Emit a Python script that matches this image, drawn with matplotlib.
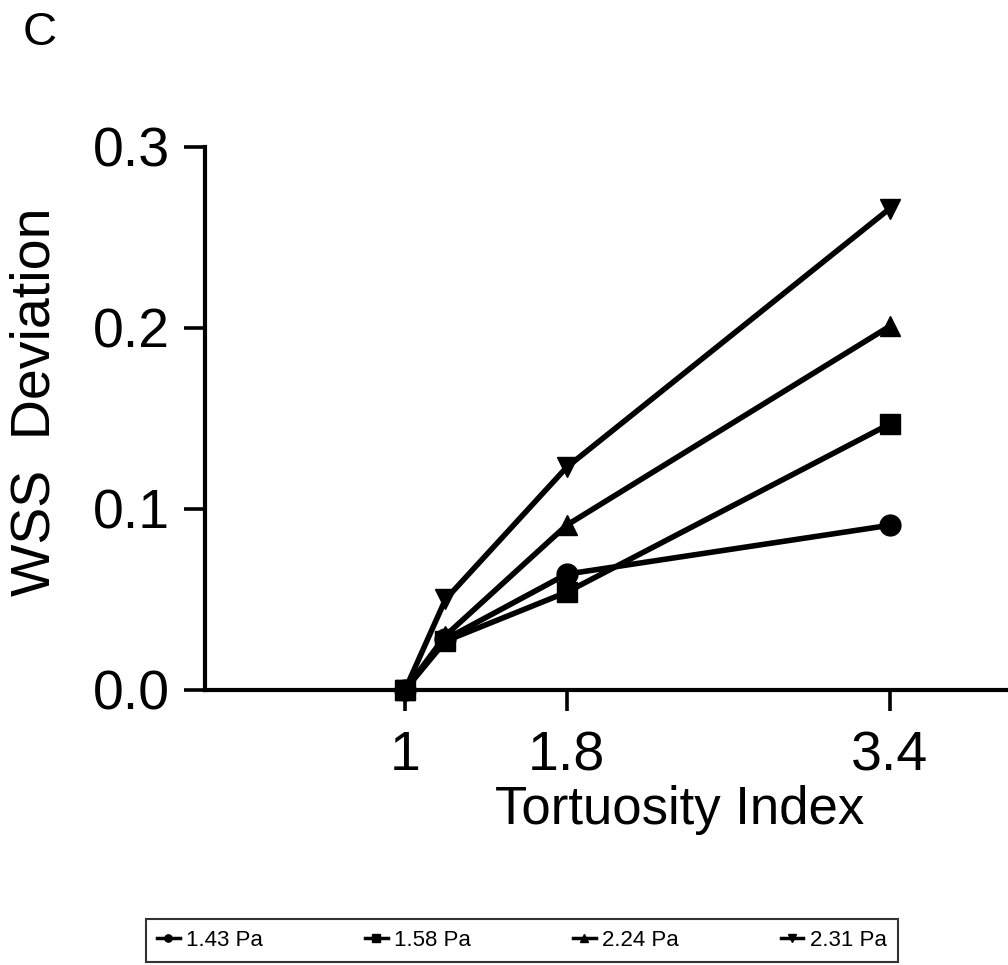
import matplotlib
matplotlib.use('Agg')
import matplotlib.pyplot as plt

plt.rcParams['font.family'] = ['Liberation Sans', 'DejaVu Sans']

# tortuosity index and WSS deviation for each inlet shear stress
ti = [1.0, 1.2, 1.8, 3.4]
p143 = [0.0, 0.028, 0.064, 0.091]
p158 = [0.0, 0.027, 0.054, 0.147]
p224 = [0.0, 0.030, 0.091, 0.201]
p231 = [0.0, 0.050, 0.123, 0.266]
series_labels = ['1.43 Pa', '1.58 Pa', '2.24 Pa', '2.31 Pa']
markers = ['o', 's', '^', 'v']

xticks = [1, 1.8, 3.4]
xticklabels = ['1', '1.8', '3.4']
yticks = [0.0, 0.1, 0.2, 0.3]

fig = plt.figure(figsize=(10.08, 9.65), dpi=100)
ax = fig.add_axes([0.2034, 0.285, 0.7966, 0.5627])

lines = []
for vals, lab, m in zip([p143, p158, p224, p231], series_labels, markers):
    ln, = ax.plot(ti, vals, color='black', lw=4, marker=m, markersize=15,
                  label=lab, clip_on=False)
    lines.append(ln)

ax.set_xlim(0.01, 3.985)
ax.set_ylim(0, 0.3)
ax.set_xticks(xticks)
ax.set_xticklabels(xticklabels)
ax.set_yticks(yticks)
ax.set_yticklabels(['%.1f' % v for v in yticks])

for s in ['top', 'right']:
    ax.spines[s].set_visible(False)
for s in ['left', 'bottom']:
    ax.spines[s].set_linewidth(3)
ax.tick_params(axis='both', length=15, width=2.6, labelsize=40, direction='out')
ax.tick_params(axis='y', pad=10)
ax.tick_params(axis='x', pad=14)

# axis titles placed as figure text
fig.text(680 / 1008, 1 - 810 / 965, 'Tortuosity Index', fontsize=38,
         ha='center', va='center')
fig.text(36 / 1008, 1 - 402 / 965, 'WSS  Deviation', fontsize=40,
         ha='center', va='center', rotation=90)

fig.text(0.022, 0.966, 'C', fontsize=34, va='center', ha='left')

leg = fig.legend(handles=lines, loc='center', bbox_to_anchor=(0.518, 0.0255),
                 ncol=4, fontsize=16, frameon=True, fancybox=False,
                 edgecolor='black', markerscale=0.35, handlelength=1.0,
                 handletextpad=0.3, columnspacing=4.6, borderpad=0.5,
                 borderaxespad=0)
leg.get_frame().set_linewidth(1.5)
for h in leg.legend_handles:
    h.set_linewidth(2.5)

fig.savefig('out.png', dpi=100)
